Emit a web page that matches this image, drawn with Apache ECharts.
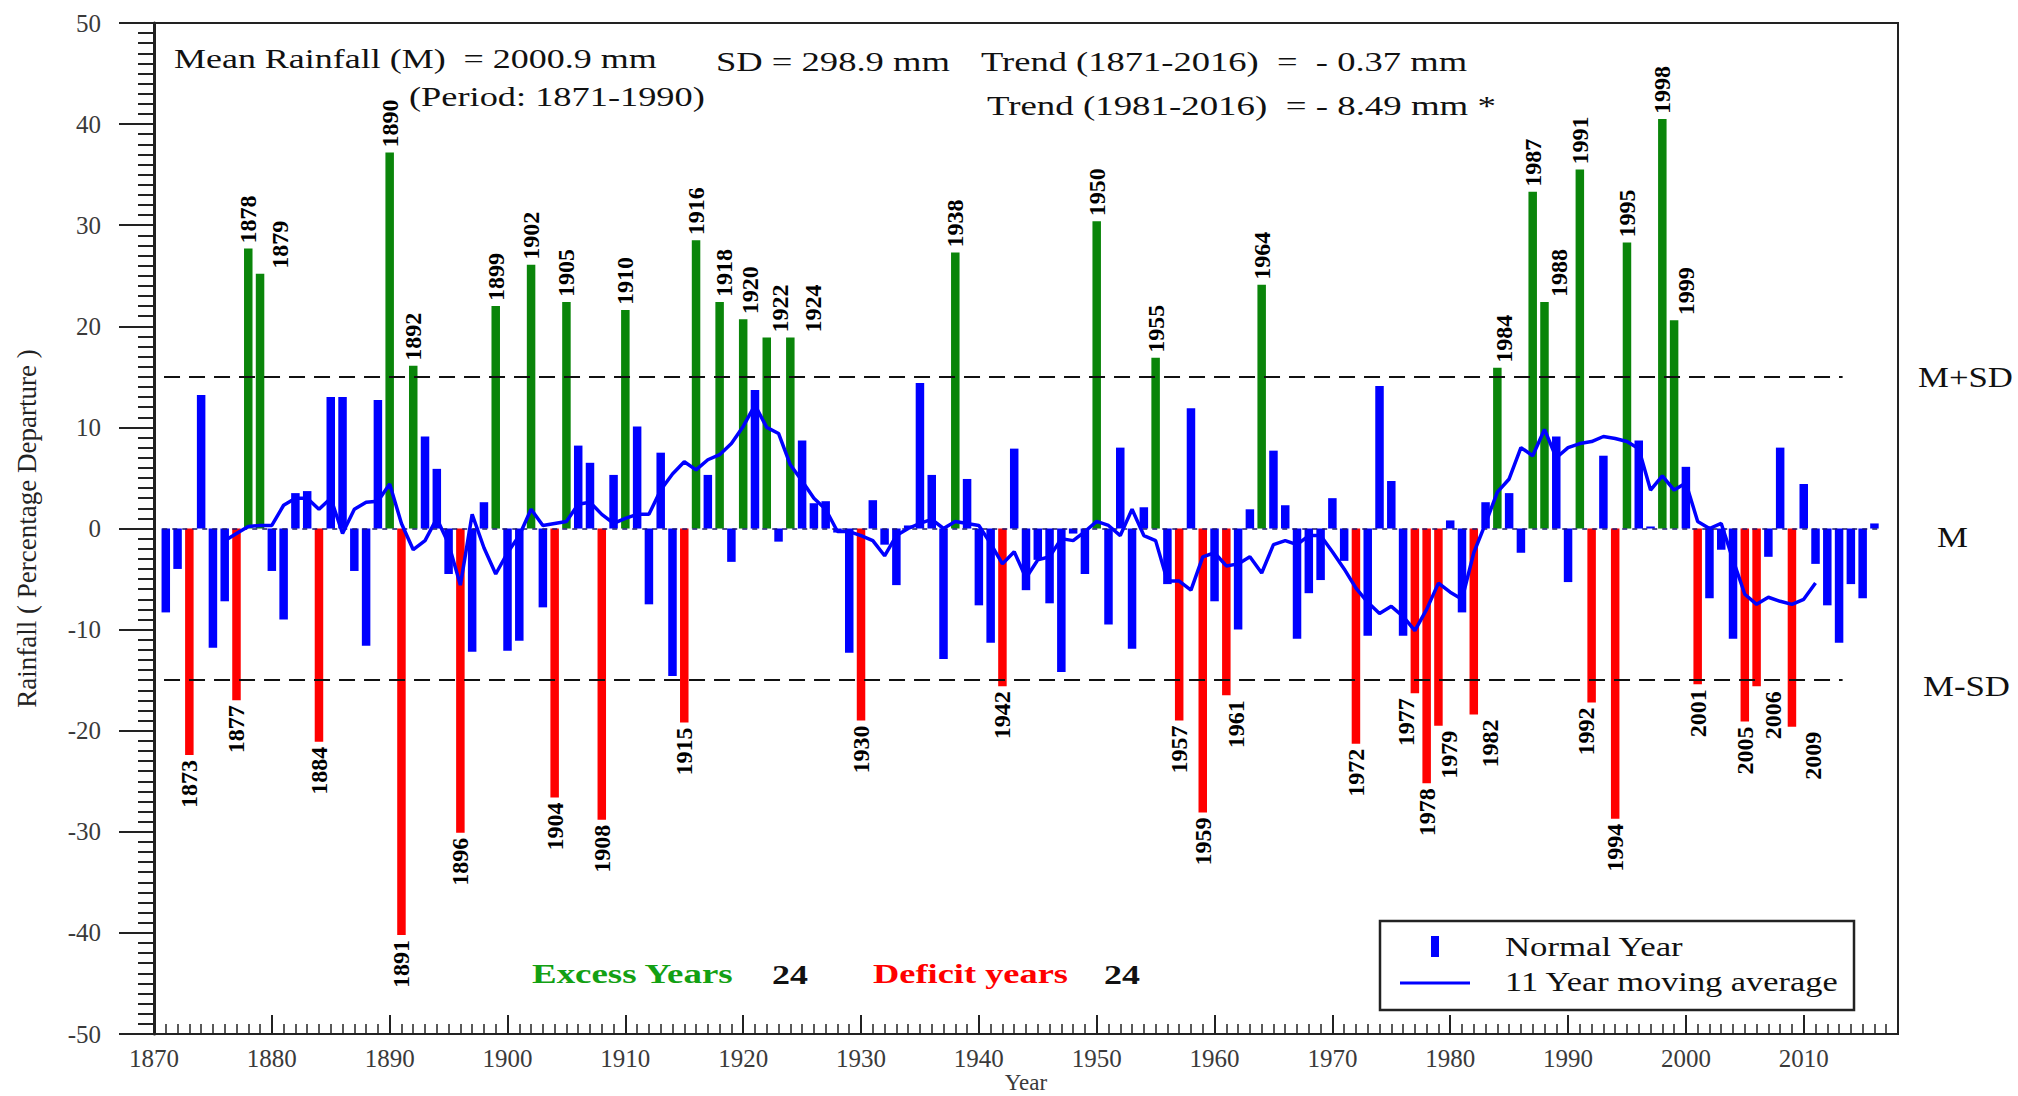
<!DOCTYPE html>
<html><head><meta charset="utf-8">
<script src="https://cdn.jsdelivr.net/npm/echarts@6/dist/echarts.min.js"></script>
<style>html,body{margin:0;padding:0;background:#fff;overflow:hidden}#chart{width:2018px;height:1096px}</style>
</head><body><div id="chart"></div>
<script>
// ---------------- DATA ----------------
const startYear = 1871;
// Rainfall departure from mean (%), 1871-2016
const rainfall = [
  -8.3, -4.0, -22.4, 13.2, -11.8, -7.2, -17.0, 27.7, 25.2, -4.2,
  -9.0, 3.5, 3.7, -21.1, 13.0, 13.0, -4.2, -11.6, 12.7, 37.2,
  -40.2, 16.1, 9.1, 5.9, -4.5, -30.1, -12.2, 2.6, 22.0, -12.1,
  -11.1, 26.1, -7.8, -26.6, 22.4, 8.2, 6.5, -28.8, 5.3, 21.6,
  10.1, -7.5, 7.5, -14.6, -19.2, 28.5, 5.3, 22.4, -3.3, 20.7,
  13.7, 18.9, -1.3, 18.9, 8.7, 2.5, 2.7, -0.4, -12.3, -19.0,
  2.8, -1.6, -5.6, 0.3, 14.4, 5.3, -12.9, 27.3, 4.9, -7.6,
  -11.3, -15.6, 7.9, -6.1, -3.1, -7.4, -14.2, -0.5, -4.5, 30.4,
  -9.5, 8.0, -11.9, 2.1, 16.9, -5.5, -19.0, 11.9, -28.1, -7.2,
  -16.5, -10.0, 1.9, 24.1, 7.7, 2.3, -10.9, -6.4, -5.1, 3.0,
  -3.2, -21.3, -10.6, 14.1, 4.7, -10.6, -16.3, -25.2, -19.5, 0.8,
  -8.3, -18.4, 2.6, 15.9, 3.5, -2.4, 33.3, 22.4, 9.1, -5.3,
  35.5, -17.2, 7.2, -28.7, 28.3, 8.7, 0.2, 40.5, 20.6, 6.1,
  -15.4, -6.9, -2.1, -10.9, -19.1, -15.6, -2.8, 8.0, -19.6, 4.4,
  -3.5, -7.6, -11.3, -5.5, -6.9, 0.5
];
// 11-year moving average, 1876-2011
const maStartYear = 1876;
const movingAvg = [
  -1.2, -0.5, 0.2, 0.3, 0.3, 2.3, 3.0, 3.0, 1.9, 3.0,
  -0.5, 1.9, 2.6, 2.7, 4.4, 0.5, -2.1, -1.2, 1.0, -1.5,
  -5.6, 1.4, -1.9, -4.5, -2.4, -0.7, 1.9, 0.3, 0.5, 0.7,
  2.4, 2.6, 1.4, 0.5, 1.0, 1.4, 1.4, 3.8, 5.4, 6.6,
  5.8, 6.8, 7.3, 8.4, 10.1, 12.2, 10.0, 9.4, 6.3, 4.7,
  3.0, 1.9, -0.3, -0.3, -0.7, -1.2, -2.7, -0.7, 0.0, 0.5,
  0.9, 0.0, 0.7, 0.5, 0.3, -1.5, -3.5, -2.3, -4.9, -3.1,
  -2.8, -1.0, -1.2, -0.3, 0.7, 0.3, -0.7, 1.9, -0.7, -1.2,
  -5.2, -5.2, -6.1, -2.8, -2.4, -3.7, -3.5, -2.8, -4.4, -1.6,
  -1.2, -1.6, -0.7, -0.7, -2.3, -4.0, -5.9, -7.3, -8.4, -7.7,
  -8.7, -10.1, -8.0, -5.4, -6.3, -7.0, -2.4, 0.5, 3.6, 4.9,
  8.0, 7.2, 9.8, 7.0, 8.0, 8.4, 8.6, 9.1, 8.9, 8.6,
  7.9, 3.8, 5.2, 3.8, 4.5, 0.7, 0.0, 0.5, -3.1, -6.5,
  -7.5, -6.8, -7.2, -7.5, -7.0, -5.4
];
const excessYears = [1878,1879,1890,1892,1899,1902,1905,1910,1916,1918,1920,1922,1924,
  1938,1950,1955,1964,1984,1987,1988,1991,1995,1998,1999];
const deficitYears = [1873,1877,1884,1891,1896,1904,1908,1915,1930,1942,1957,1959,1961,
  1972,1977,1978,1979,1982,1992,1994,2001,2005,2006,2009];
const sdLevel = 15;            // M+SD / M-SD in % departure
const xTickYears = [1870,1880,1890,1900,1910,1920,1930,1940,1950,1960,1970,1980,1990,2000,2010];
const yTickValues = [-50,-40,-30,-20,-10,0,10,20,30,40,50];
const headerTexts = ['Mean Rainfall (M)  = 2000.9 mm', '(Period: 1871-1990)', 'SD = 298.9 mm',
  'Trend (1871-2016)  =  - 0.37 mm', 'Trend (1981-2016)  = - 8.49 mm *'];

// ---------------- STYLE ----------------
const SERIF = '"Liberation Serif", "Times New Roman", serif';
const BLUE = '#0000ff', GREEN = '#0a850a', RED = '#ff0000';
// horizontal nudges (px) of some year labels, as in the original figure
const labelNudge = {1879: 20, 1922: 13, 1924: 23, 1988: 15, 1999: 12, 1918: 4, 1920: 7, 1984: 7,
  2006: 16, 2009: 21, 1982: 16, 1979: 11, 1961: 10, 1977: -9, 1992: -6};

const normal = [], excess = [], deficit = [];
rainfall.forEach((v, i) => {
  const yr = startYear + i;
  const item = {value: [yr, v]};
  // label is rotated 90deg, so a screen-x shift is the label's local y offset
  if (excessYears.includes(yr)) { item.label = {offset: [0, labelNudge[yr] || 0]}; excess.push(item); }
  else if (deficitYears.includes(yr)) { item.label = {offset: [0, labelNudge[yr] || 0]}; deficit.push(item); }
  else normal.push(item);
});
const maData = movingAvg.map((v, i) => [maStartYear + i, v]);

const yearLabel = {
  show: true, rotate: 90, verticalAlign: 'middle', distance: 5,
  fontFamily: SERIF, fontWeight: 'bold', fontSize: 24, color: '#000',
  formatter: p => String(p.value[0])
};

const chart = echarts.init(document.getElementById('chart'), null, {renderer: 'svg'});
const option = {
  animation: false,
  backgroundColor: '#fff',
  grid: {left: 154, right: 120, top: 23, bottom: 62, containLabel: false, outerBoundsMode: 'none',
    show: true, borderColor: '#222', borderWidth: 2},
  xAxis: [{
    type: 'value', min: 1870, max: 2018, interval: 10, position: 'bottom',
    axisLine: {show: true, onZero: false, lineStyle: {color: '#222', width: 2}},
    axisTick: {show: true, inside: true, length: 19, lineStyle: {color: '#222', width: 2}},
    axisLabel: {fontFamily: SERIF, fontSize: 25, color: '#3a3a3a', margin: 12, showMaxLabel: false,
      formatter: v => xTickYears.includes(v) ? String(v) : ''},
    splitLine: {show: false},
    name: 'Year', nameLocation: 'middle', nameGap: 37, nameMoveOverlap: false,
    nameTextStyle: {fontFamily: SERIF, fontSize: 23, color: '#3a3a3a'}
  }, {
    type: 'value', min: 1870, max: 2018, interval: 1, position: 'bottom',
    axisLine: {show: false, onZero: false},
    axisTick: {show: true, inside: true, length: 10, lineStyle: {color: '#222', width: 1.5}},
    axisLabel: {show: false}, splitLine: {show: false}
  }],
  yAxis: [{
    type: 'value', min: -50, max: 50, interval: 10, position: 'left',
    axisLine: {show: true, onZero: false, lineStyle: {color: '#222', width: 3}},
    axisTick: {show: true, inside: false, length: 35, lineStyle: {color: '#222', width: 2}},
    axisLabel: {fontFamily: SERIF, fontSize: 25, color: '#3a3a3a', margin: 53,
      formatter: v => yTickValues.includes(v) ? String(v) : ''},
    splitLine: {show: false},
    name: 'Rainfall ( Percentage Departure )', nameLocation: 'middle', nameGap: 114,
    nameTextStyle: {fontFamily: SERIF, fontSize: 27, color: '#222'}
  }, {
    type: 'value', min: -50, max: 50, interval: 1, position: 'left',
    axisLine: {show: false, onZero: false},
    axisTick: {show: true, inside: false, length: 16, lineStyle: {color: '#222', width: 2}},
    axisLabel: {show: false}, splitLine: {show: false}
  }],
  series: [
    {
      type: 'bar', name: 'Normal Year', data: normal, barWidth: 8.5, barGap: '-100%',
      itemStyle: {color: BLUE}, z: 2,
      markLine: {
        silent: true, symbol: ['none', 'none'], label: {show: false}, z: 3,
        lineStyle: {color: '#1a1a70', type: [5, 5], width: 1.5},
        data: [[{coord: [1870.7, 0]}, {coord: [2016.6, 0]}]]
      }
    },
    {
      type: 'bar', name: 'Excess', data: excess, barWidth: 8.5, barGap: '-100%',
      itemStyle: {color: GREEN}, z: 2,
      label: Object.assign({}, yearLabel, {position: 'top', align: 'left'})
    },
    {
      type: 'bar', name: 'Deficit', data: deficit, barWidth: 8.5, barGap: '-100%',
      itemStyle: {color: RED}, z: 2,
      label: Object.assign({}, yearLabel, {position: 'bottom', align: 'right'})
    },
    {
      type: 'line', name: '11 Year moving average', data: maData, symbol: 'none',
      lineStyle: {color: BLUE, width: 3.5}, z: 6,
      markLine: {
        silent: true, symbol: ['none', 'none'], label: {show: false},
        lineStyle: {color: '#111', type: [16, 9], width: 2},
        data: [
          [{coord: [1870.85, sdLevel]}, {coord: [2013.3, sdLevel]}],
          [{coord: [1870.85, -sdLevel]}, {coord: [2013.3, -sdLevel]}]
        ]
      }
    }
  ]
};
chart.setOption(option);

// ---- stretched serif text annotations ----
const ctx = document.createElement('canvas').getContext('2d');
function st(text, x, y, w, size, color, weight) {
  weight = weight || 'normal';
  ctx.font = weight + ' ' + size + 'px "Liberation Serif"';
  const m = ctx.measureText(text).width;
  return {type: 'text', x: x, y: y, scaleX: w / m, silent: true, z: 20,
    style: {text: text, fontSize: size, fontFamily: SERIF, fontWeight: weight, fill: color || '#111',
      align: 'left', verticalAlign: 'middle'}};
}
const yPlus = chart.convertToPixel({yAxisIndex: 0}, sdLevel);
const yZero = chart.convertToPixel({yAxisIndex: 0}, 0);
const yMinus = chart.convertToPixel({yAxisIndex: 0}, -sdLevel);

const graphics = [
  st(headerTexts[0], 174, 58, 483, 28),
  st(headerTexts[1], 409, 97, 296, 28),
  st(headerTexts[2], 716, 62, 234, 28),
  st(headerTexts[3], 981, 62, 486, 28),
  st(headerTexts[4], 987, 106, 509, 28),
  st('M+SD', 1918, yPlus, 95, 29, '#111'),
  st('M', 1937, yZero + 9, 31, 29, '#111'),
  st('M-SD', 1923, yMinus + 6, 87, 29, '#111'),
  st('Excess Years', 532, 974, 202, 28, '#13a013', 'bold'),
  st('24', 772, 974, 36, 28, '#111', 'bold'),
  st('Deficit years', 873, 974, 195, 28, '#ff0000', 'bold'),
  st('24', 1104, 974, 36, 28, '#111', 'bold'),
  // legend box
  {type: 'rect', silent: true, z: 19, shape: {x: 1380, y: 921, width: 474, height: 89},
    style: {fill: '#fff', stroke: '#222', lineWidth: 2.5}},
  {type: 'rect', silent: true, z: 20, shape: {x: 1431, y: 936, width: 8, height: 21}, style: {fill: BLUE}},
  {type: 'line', silent: true, z: 20, shape: {x1: 1400, y1: 983, x2: 1470, y2: 983}, style: {stroke: BLUE, lineWidth: 3}},
  st('Normal Year', 1505, 947, 179, 27),
  st('11 Year moving average', 1505, 982, 334, 27)
];
chart.setOption({graphic: graphics});
</script></body></html>
